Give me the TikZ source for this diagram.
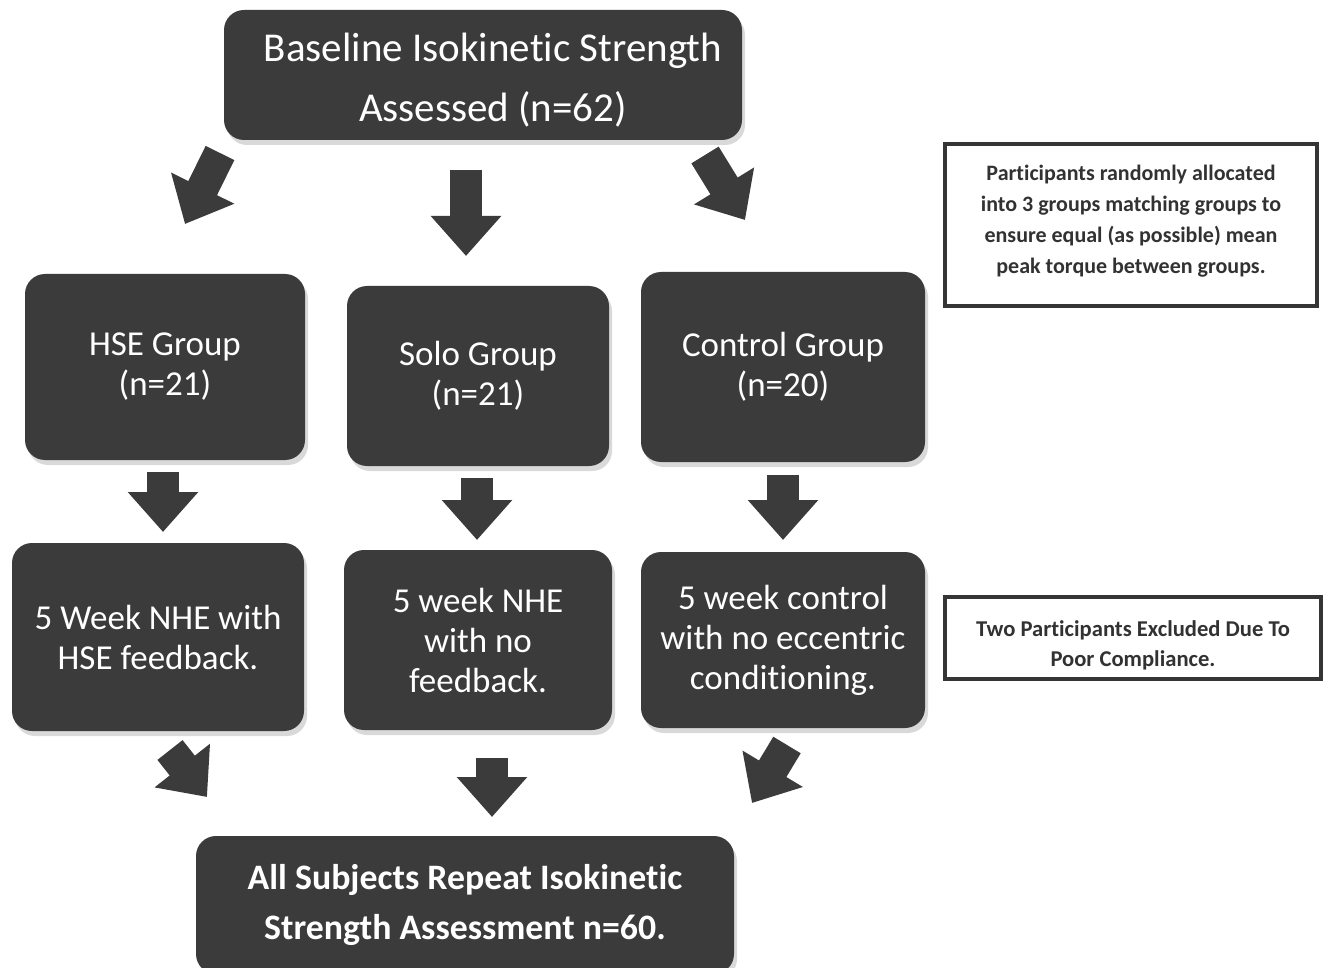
\documentclass[tikz,border=0pt]{standalone}
\usepackage{fontspec}
\setmainfont{Carlito}[RawFeature={-liga;-dlig;-calt}]
\usetikzlibrary{arrows.meta,shadows}
\definecolor{boxgrey}{HTML}{3B3B3B}
\begin{document}
\begin{tikzpicture}[x=0.5pt, y=-0.5pt,
    stage/.style={fill=boxgrey, rounded corners=10pt, text=white, align=center, inner sep=0pt,
        drop shadow={shadow xshift=1.5pt, shadow yshift=-2.5pt, opacity=0.3}},
    note/.style={draw=boxgrey!90!black, line width=2pt, fill=white, align=center, inner sep=0pt,
        text=boxgrey!85!black, font=\bfseries\fontsize{11}{15.5}\selectfont},
    flow/.style={draw=boxgrey, line width=16pt, -{Triangle[length=20pt, width=34pt]}}]
        \useasboundingbox (0,0) rectangle (1328,968);
        \clip (0,0) rectangle (1328,968);

        \node[stage, minimum width=259pt, minimum height=65pt] (baseline) at (483,75) {};
        \node[text=white, align=center, font=\fontsize{20.5}{30}\selectfont]
            (baseline_txt) at (493,80) {Baseline Isokinetic Strength\\Assessed (n=62)};

        \node[stage, minimum width=140pt, minimum height=93pt, font=\fontsize{17.5}{20}\selectfont]
            (hse) at (165,367) {HSE Group\\(n=21)};
        \node[stage, minimum width=131pt, minimum height=90pt, font=\fontsize{17.5}{20}\selectfont]
            (solo) at (478,376) {Solo Group\\(n=21)};
        \node[stage, minimum width=142pt, minimum height=95pt, font=\fontsize{17.5}{20}\selectfont]
            (control) at (783,367) {Control Group\\(n=20)};

        \node[stage, minimum width=146pt, minimum height=94pt, font=\fontsize{17.5}{20}\selectfont]
            (hse_fb) at (158,637) {5 Week NHE with\\HSE feedback.};
        \node[stage, minimum width=134pt, minimum height=90pt, font=\fontsize{17.5}{20}\selectfont]
            (solo_fb) at (478,640) {5 week NHE\\with no\\feedback.};
        \node[stage, minimum width=142pt, minimum height=88pt, font=\fontsize{17.5}{20}\selectfont]
            (control_fb) at (783,640) {5 week control\\with no eccentric\\conditioning.};

        \node[stage, minimum width=269pt, minimum height=69pt, font=\bfseries\fontsize{17.9}{25}\selectfont]
            (repeat) at (465,905) {All Subjects Repeat Isokinetic\\Strength Assessment n=60.};

        \node[note, minimum width=186pt, minimum height=81pt] (allocation) at (1131,225) {};
        \node[align=center, text=boxgrey!85!black, font=\bfseries\fontsize{11}{15.5}\selectfont]
            (allocation_txt) at (1131,221) {Participants randomly allocated\\into 3 groups matching groups to\\ensure equal (as possible) mean\\peak torque between groups.};
        \node[note, minimum width=188pt, minimum height=41pt] (excluded) at (1133,638) {};
        \node[align=center, text=boxgrey!85!black, font=\bfseries\fontsize{11.3}{15}\selectfont]
            (excluded_txt) at (1133,645) {Two Participants Excluded Due To\\Poor Compliance.};

        % split into groups
        \coordinate (split_l_s) at (220,153);
        \coordinate (split_l_e) at (185,224);
        \coordinate (split_m_s) at (466,170);
        \coordinate (split_m_e) at (466,256);
        \coordinate (split_r_s) at (705,155);
        \coordinate (split_r_e) at (745,220);
        \draw[flow] (split_l_s) -- (split_l_e);
        \draw[flow] (split_m_s) -- (split_m_e);
        \draw[flow] (split_r_s) -- (split_r_e);

        % groups to training
        \coordinate (train_l_s) at (163,472);
        \coordinate (train_l_e) at (163,532);
        \coordinate (train_m_s) at (477,478);
        \coordinate (train_m_e) at (477,540);
        \coordinate (train_r_s) at (783,475);
        \coordinate (train_r_e) at (783,540);
        \draw[flow] (train_l_s) -- (train_l_e);
        \draw[flow] (train_m_s) -- (train_m_e);
        \draw[flow] (train_r_s) -- (train_r_e);

        % training to retest
        \coordinate (join_l_s) at (170,750);
        \coordinate (join_l_e) at (207,797);
        \coordinate (join_m_s) at (492,758);
        \coordinate (join_m_e) at (492,817);
        \coordinate (join_r_s) at (787,745);
        \coordinate (join_r_e) at (752,803);
        \draw[flow] (join_l_s) -- (join_l_e);
        \draw[flow] (join_m_s) -- (join_m_e);
        \draw[flow] (join_r_s) -- (join_r_e);
    \end{tikzpicture}
\end{document}
